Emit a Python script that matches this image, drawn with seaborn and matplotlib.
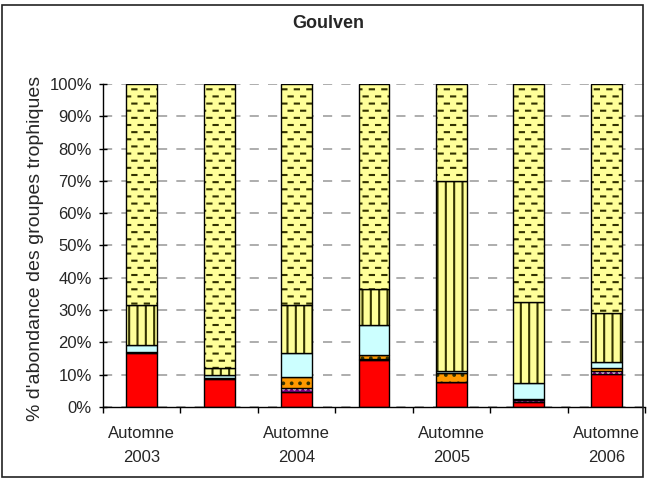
import matplotlib
matplotlib.use("Agg")
import matplotlib.pyplot as plt
from matplotlib import hatch as mhatch
from matplotlib.path import Path
import seaborn as sns
import pandas as pd
import numpy as np

categories = ["A03", "P04", "A04", "P05", "A05", "P06", "A06"]
tick_labels = ["Automne\n2003", "", "Automne\n2004", "", "Automne\n2005", "", "Automne\n2006"]
red = [16.8, 8.8, 4.5, 14.5, 7.6, 1.6, 10.1]
purple = [0.3, 0.2, 1.5, 0.5, 0.0, 0.5, 1.0]
orange = [0.0, 0.0, 3.2, 1.0, 2.9, 0.4, 0.9]
cyan = [2.0, 0.8, 7.4, 9.4, 0.5, 5.0, 2.0]
vertical = [12.5, 2.2, 15.0, 11.0, 59.0, 25.0, 15.0]
dashes = [68.4, 88.0, 68.4, 63.6, 30.0, 67.5, 71.0]

series = [
    ("red", red, "#FF0000", "", "#FF0000"),
    ("purple", purple, "#800080", "...", "white"),
    ("orange", orange, "#FF9900", "..", "#333300"),
    ("cyan", cyan, "#CCFFFF", "", "#CCFFFF"),
    ("vertical", vertical, "#FFFF99", "||", "#333300"),
    ("dashes", dashes, "#FFFF99", "-", "#333300"),
]


class DashHatch(mhatch.HatchPatternBase):
    """Staggered short horizontal dashes (Excel-like texture) for '-'."""

    def __init__(self, hatch, density):
        self.rows = 14
        self.cols = 8
        self.num_vertices = self.rows * self.cols * 2 if hatch.count("-") > 0 else 0

    def set_vertices_and_codes(self, vertices, codes):
        k = 0
        half = 0.021
        for r in range(self.rows):
            y = (r + 0.5) / self.rows
            off = 0.25 if r % 2 == 0 else 0.75
            for c in range(self.cols):
                x = (c + off) / self.cols
                vertices[k] = (x - half, y)
                vertices[k + 1] = (x + half, y)
                codes[k] = Path.MOVETO
                codes[k + 1] = Path.LINETO
                k += 2


mhatch._hatch_types = [DashHatch if t is mhatch.HorizontalHatch else t
                       for t in mhatch._hatch_types]

sns.set_style("white")
plt.rcParams["font.family"] = ["Liberation Sans", "DejaVu Sans"]
plt.rcParams["hatch.linewidth"] = 1.5

W, H = 656, 479
fig = plt.figure(figsize=(W / 100, H / 100), dpi=100)
ax = fig.add_axes([103 / W, 1 - 407 / H, (645 - 103) / W, (407 - 84) / H])

df = pd.DataFrame({"cat": categories})
bottom = np.zeros(len(categories))
for name, vals, color, hatch, hcol in series:
    df["v"] = vals
    sns.barplot(data=df, x="cat", y="v", ax=ax, color=color, bottom=bottom,
                width=0.4, hatch=hatch, edgecolor=hcol, linewidth=0,
                saturation=1, errorbar=None)
    sns.barplot(data=df, x="cat", y="v", ax=ax, color="black", bottom=bottom, fill=False,
                width=0.4, edgecolor="black", linewidth=1.0, errorbar=None)
    bottom = bottom + np.array(vals)

ax.set_ylim(0, 100)
ax.set_xlim(-0.5, len(categories) - 0.5)
ax.set_yticks(np.arange(0, 101, 10))
ax.set_yticklabels([f"{v}%" for v in range(0, 101, 10)], fontsize=12)
ax.yaxis.grid(True, linestyle=(0, (5.5, 5.5)), color="#A0A0A0", linewidth=1.2)
ax.set_axisbelow(True)
ax.tick_params(axis="y", length=6, width=1, color="black", direction="inout", left=True, pad=5)

ax.set_xticks(np.arange(-0.5, len(categories), 1))
ax.set_xticklabels([])
ax.tick_params(axis="x", length=4.5, width=1, color="black", direction="out", bottom=True)
for i, lab in enumerate(tick_labels):
    if lab:
        ax.text(i, -6.0, lab, ha="center", va="top", fontsize=12,
                transform=ax.transData, linespacing=1.75)

for s in ["top", "right"]:
    ax.spines[s].set_visible(False)
for s in ["left", "bottom"]:
    ax.spines[s].set_color("black")
    ax.spines[s].set_linewidth(1)

ax.set_xlabel("")
ax.set_ylabel("% d'abondance des groupes trophiques", fontsize=14)
ax.yaxis.set_label_coords((44 - 103) / (645 - 103), 0.49)
fig.text(0.5, 1 - 23.5 / H, "Goulven", ha="center", va="center", fontsize=13, fontweight="bold")

fig.patches.append(plt.Rectangle((1.5 / W, 1 - 477 / H), (643 - 1.5) / W, (477 - 5) / H,
                                 transform=fig.transFigure, fill=False,
                                 edgecolor="#222222", linewidth=1.2))
fig.savefig("out.png", dpi=100)
